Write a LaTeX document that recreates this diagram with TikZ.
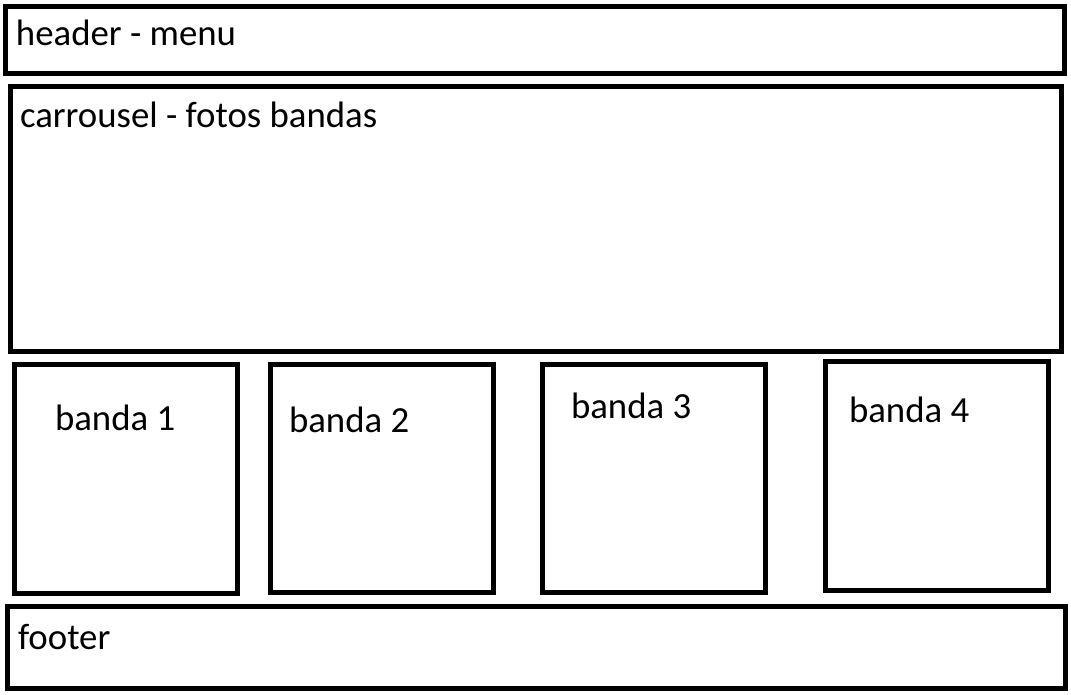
\documentclass[tikz,border=0pt]{standalone}
\usepackage{fontspec}
\setmainfont{Carlito}
\begin{document}
\begin{tikzpicture}[x=1pt,y=-1pt,
  box/.style={draw=black,line width=5pt,inner sep=0pt,outer sep=0pt,anchor=north west,fill=none},
  lbl/.style={anchor=base west,inner sep=0pt,outer sep=0pt,font=\fontsize{36.8}{42}\selectfont}]
\useasboundingbox[fill=white] (0,0) rectangle (1071,695);
\node[box,minimum width=1058.5pt,minimum height=67pt] (header) at (5.5,6.5) {};
\node[box,minimum width=1051.5pt,minimum height=265pt] (carrousel) at (10,86.5) {};
\node[box,minimum width=223pt,minimum height=228.5pt] (b1) at (14,364.5) {};
\node[box,minimum width=223pt,minimum height=228pt] (b2) at (270,364) {};
\node[box,minimum width=223pt,minimum height=228pt] (b3) at (542,364) {};
\node[box,minimum width=223pt,minimum height=229pt] (b4) at (825,361.5) {};
\node[box,minimum width=1057.5pt,minimum height=81.5pt] (footer) at (7.5,606.5) {};
\node[lbl] (theader) at (16,46) {header - menu};
\node[lbl] (tcarr) at (20,128) {carrousel - fotos bandas};
\node[lbl] (tb1) at (55,430.5) {banda 1};
\node[lbl] (tb2) at (289,432) {banda 2};
\node[lbl] (tb3) at (571,418) {banda 3};
\node[lbl] (tb4) at (849,422.5) {banda 4};
\node[lbl] (tfooter) at (18,649) {footer};
\end{tikzpicture}
\end{document}
